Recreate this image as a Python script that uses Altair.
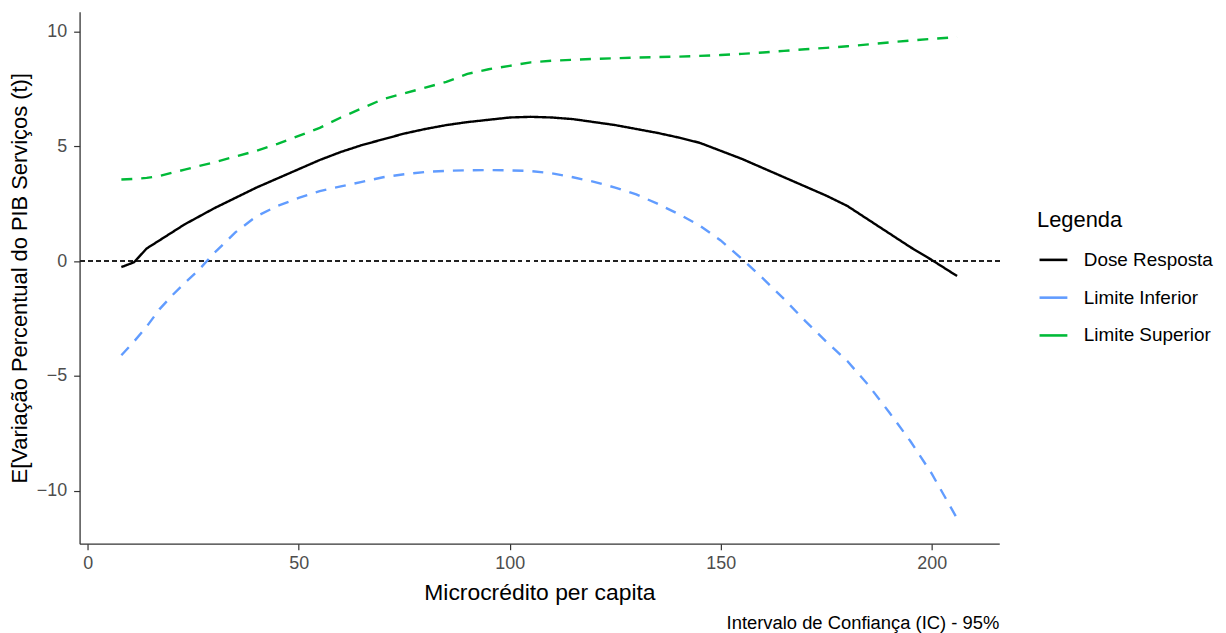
import altair as alt
import pandas as pd

x_vals = [8, 11, 14, 17, 20, 23, 26, 30, 35, 40, 45, 50, 55, 60, 65, 70, 75, 80, 85, 90,
          95, 100, 105, 110, 115, 120, 125, 130, 135, 140, 145, 150, 155, 160, 165, 170,
          175, 180, 185, 190, 195, 200, 206]
dose = [-0.26, -0.05, 0.55, 0.9, 1.25, 1.6, 1.9, 2.3, 2.75, 3.2, 3.6, 4.0, 4.4, 4.75, 5.05,
        5.3, 5.55, 5.75, 5.92, 6.05, 6.15, 6.25, 6.28, 6.25, 6.18, 6.05, 5.92, 5.75, 5.58,
        5.38, 5.15, 4.8, 4.45, 4.05, 3.65, 3.25, 2.85, 2.4, 1.8, 1.2, 0.6, 0.05, -0.65]
lower = [-4.1, -3.5, -2.85, -2.1, -1.5, -0.95, -0.45, 0.35, 1.25, 1.95, 2.4, 2.75, 3.05,
         3.25, 3.45, 3.65, 3.78, 3.88, 3.93, 3.95, 3.96, 3.95, 3.92, 3.82, 3.65, 3.45, 3.2,
         2.9, 2.5, 2.05, 1.55, 0.9, 0.1, -0.75, -1.65, -2.6, -3.5, -4.35, -5.4, -6.6, -7.85,
         -9.25, -11.2]
upper = [3.55, 3.58, 3.62, 3.7, 3.85, 3.98, 4.12, 4.3, 4.55, 4.8, 5.1, 5.45, 5.8, 6.25,
         6.65, 7.05, 7.3, 7.55, 7.8, 8.15, 8.35, 8.5, 8.65, 8.72, 8.76, 8.8, 8.83, 8.86,
         8.88, 8.9, 8.93, 8.97, 9.02, 9.08, 9.15, 9.22, 9.28, 9.35, 9.43, 9.52, 9.6, 9.67,
         9.75]

series_names = ["Dose Resposta", "Limite Inferior", "Limite Superior"]
series_styles = ["solido", "tracejado", "tracejado"]
series_colors = ["#000000", "#619CFF", "#00BA38"]
caption_text = ["Intervalo de Confiança (IC) - 95%"]

rows = []
for name, style, vals in zip(series_names, series_styles, [dose, lower, upper]):
    for xv, yv in zip(x_vals, vals):
        rows.append({"x": xv, "y": yv, "serie": name, "estilo": style})
df = pd.DataFrame(rows)

FONT = "Liberation Sans"
W, H = 925, 535

x_scale = alt.Scale(domain=[-1.9, 216], nice=False, zero=False)
y_scale = alt.Scale(domain=[-12.3, 10.85], nice=False, zero=False)

lines = alt.Chart(df).mark_line(strokeWidth=2.4).encode(
    x=alt.X("x:Q", scale=x_scale,
            axis=alt.Axis(title="Microcrédito per capita", values=[0, 50, 100, 150, 200],
                          titlePadding=9, titleFontSize=23)),
    y=alt.Y("y:Q", scale=y_scale,
            axis=alt.Axis(title="E[Variação Percentual do PIB Serviços (t)]",
                          values=[-10, -5, 0, 5, 10], titlePadding=5)),
    color=alt.Color("serie:N",
                    scale=alt.Scale(domain=series_names, range=series_colors),
                    legend=alt.Legend(title="Legenda", orient="none", legendX=963, legendY=199,
                                      symbolType="stroke", symbolSize=784,
                                      symbolStrokeWidth=2.6, symbolOffset=1,
                                      labelFontSize=19, titleFontSize=22,
                                      titleFontWeight="normal",
                                      titleColor="#000000", labelColor="#000000",
                                      labelOffset=15, rowPadding=12, titlePadding=13,
                                      labelFont=FONT, titleFont=FONT)),
    strokeDash=alt.StrokeDash("estilo:N",
                              scale=alt.Scale(domain=["solido", "tracejado"],
                                              range=[[1, 0], [11, 9]]),
                              legend=None),
)

zero_rule = alt.Chart(df).mark_rule(color="#222222", strokeWidth=1.1,
                                    strokeDash=[4, 4]).encode(y=alt.datum(0))

caption = alt.Chart(pd.DataFrame({"t": caption_text})).mark_text(
    align="right", baseline="alphabetic", fontSize=18.5, font=FONT, color="#000000"
).encode(x=alt.value(W), y=alt.value(H + 86), text="t:N")

chart = (zero_rule + lines + caption).properties(
    width=W, height=H,
    padding={"left": 0, "top": 2, "right": 5, "bottom": 5},
).configure_view(stroke=None).configure_axis(
    grid=False, domainColor="#333333", domainWidth=1.3, tickColor="#333333", tickSize=6,
    tickWidth=1.2, labelColor="#4d4d4d", labelFontSize=18, labelFont=FONT,
    titleFont=FONT, titleFontSize=22, titleFontWeight="normal", titleColor="#000000",
    labelPadding=5,
).configure_axisY(labelPadding=7)

chart.save("out.html", embed_options={"renderer": "svg", "actions": False})
